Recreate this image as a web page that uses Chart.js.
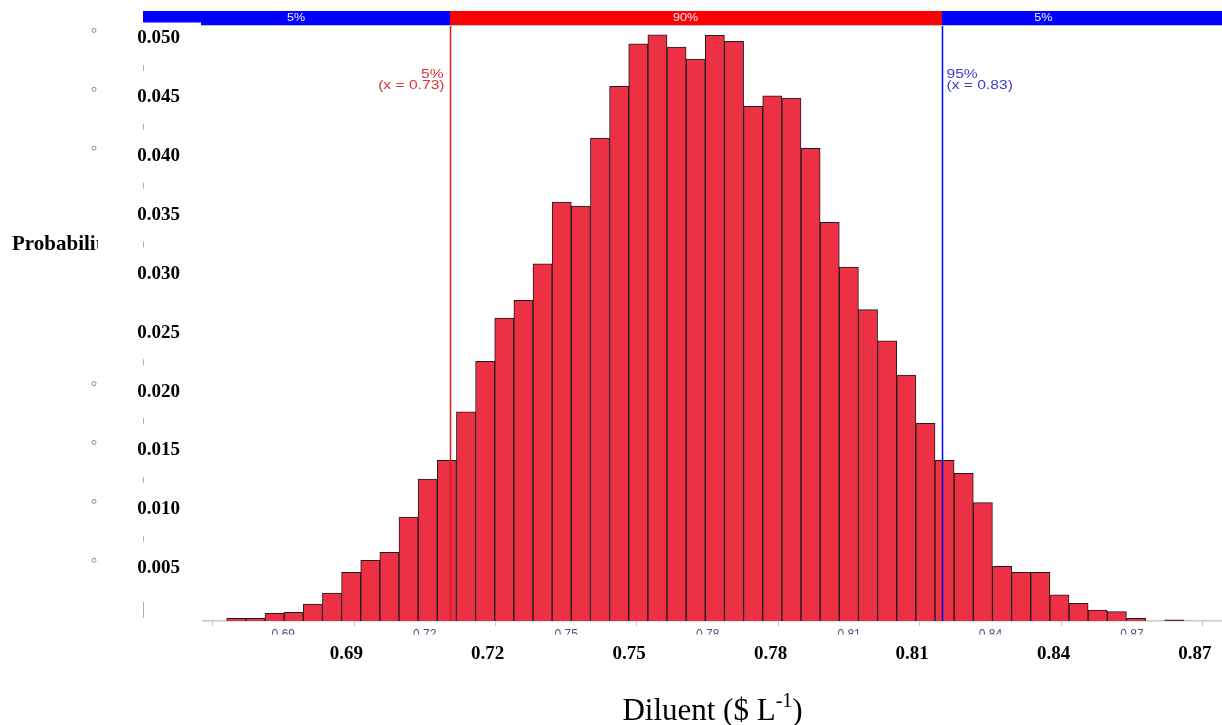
<!DOCTYPE html>
<html><head><meta charset="utf-8">
<script src="https://cdn.jsdelivr.net/npm/chart.js@4.4.1/dist/chart.umd.min.js"></script>
<style>html,body{margin:0;padding:0;background:#fff;}#wrap{width:1222px;height:725px;position:relative;}</style>
</head><body><div id="wrap"><canvas id="c" width="1222" height="725"></canvas></div>
<script>
// Histogram bin centres (Diluent, $ L^-1)
const binCenters = [0.68003,0.68409,0.68815,0.69221,0.69627,0.70033,0.70439,0.70845,0.71251,0.71657,
  0.72063,0.72469,0.72875,0.73281,0.73687,0.74093,0.74499,0.74905,0.75311,0.75717,
  0.76123,0.76529,0.76935,0.77341,0.77747,0.78153,0.78559,0.78965,0.79371,0.79777,
  0.80183,0.80589,0.80995,0.81401,0.81807,0.82213,0.82619,0.83025,0.83431,0.83837,
  0.84243,0.84649,0.85055,0.85461,0.85867,0.86273,0.86679,0.87085,0.87491,0.87897];
// Probability of each bin
const probabilities = [0.00075,0.00075,0.00117,0.00126,0.00196,0.00290,0.00465,0.00567,0.00635,0.00935,
  0.01258,0.01417,0.01829,0.02258,0.02625,0.02776,0.03086,0.03611,0.03576,0.04154,
  0.04593,0.04955,0.05031,0.04927,0.04825,0.05026,0.04975,0.04423,0.04513,0.04494,
  0.04067,0.03438,0.03058,0.02696,0.02432,0.02141,0.01731,0.01417,0.01306,0.01057,
  0.00516,0.00465,0.00465,0.00275,0.00202,0.00145,0.00131,0.00075,null,0.00062];
const xTickValues = [0.69,0.72,0.75,0.78,0.81,0.84,0.87];
const yTickValues = [0.005,0.010,0.015,0.020,0.025,0.030,0.035,0.040,0.045,0.050];
const percentileValues = [0.7254, 0.8298];
const percentileNames = ['5%', '95%'];
const percentileLabels = ['(x = 0.73)', '(x = 0.83)'];
const bandLabels = ['5%', '90%', '5%'];
const bandLabelPositions = [0.6927, 0.7753, 0.8512];
const yMarkerValues = [0.050,0.045,0.040,0.020,0.015,0.010,0.005];
const yMinorValues = [0.0475,0.0425,0.0375,0.0325,0.0225,0.0175,0.0125,0.0075];
const yAxisTitle = 'Probability';
const xAxisTitle = ['Diluent ($ L', '-1', ')'];

const X_MIN = 0.67297, X_MAX = 0.88909;

function stretched(ctx, text, x, y, align, sx) {
  ctx.save(); ctx.translate(x, y); ctx.scale(sx, 1); ctx.textAlign = align; ctx.fillText(text, 0, 0); ctx.restore();
}

const decor = {
  id: 'decor',
  afterDatasetsDraw(chart) {
    const ctx = chart.ctx, xs = chart.scales.x, a = chart.chartArea;
    const cols = ['#d01c1c', '#0000f0'];
    const tcols = ['#e0323a', '#3a3ad8'];
    percentileValues.forEach((v, i) => {
      const px = Math.round(xs.getPixelForValue(v)) + 0.5;
      ctx.save();
      ctx.strokeStyle = cols[i]; ctx.lineWidth = 1.5;
      ctx.beginPath(); ctx.moveTo(px, a.top); ctx.lineTo(px, a.bottom); ctx.stroke();
      ctx.fillStyle = tcols[i];
      ctx.font = '12px "Liberation Sans"';
      ctx.textBaseline = 'alphabetic';
      if (i === 0) {
        stretched(ctx, percentileNames[i], px - 7, 77.5, 'right', 1.3);
        stretched(ctx, percentileLabels[i], px - 6, 89, 'right', 1.3);
      } else {
        stretched(ctx, percentileNames[i], px + 4, 77.5, 'left', 1.3);
        stretched(ctx, percentileLabels[i], px + 4, 89, 'left', 1.3);
      }
      ctx.restore();
    });
  },
  afterDraw(chart) {
    const ctx = chart.ctx, xs = chart.scales.x, ys = chart.scales.y, a = chart.chartArea;
    const p1 = Math.round(xs.getPixelForValue(percentileValues[0]));
    const p2 = Math.round(xs.getPixelForValue(percentileValues[1]));
    const bandL = a.left - 60, bandT = a.top - 14, bandH = 14;
    ctx.save();
    // percentile band
    ctx.fillStyle = '#0000ff'; ctx.fillRect(bandL, bandT, p1 - bandL, bandH);
    ctx.fillStyle = '#ff0000'; ctx.fillRect(p1, bandT, p2 - p1, bandH);
    ctx.fillStyle = '#0000ff'; ctx.fillRect(p2, bandT, a.right - p2, bandH);
    ctx.fillStyle = '#fff'; ctx.fillRect(bandL, bandT + 11.5, a.left - 2 - bandL, 4);
    ctx.strokeStyle = '#c0c0c0'; ctx.lineWidth = 1;
    ctx.beginPath(); ctx.moveTo(a.left - 2, a.top + 0.5); ctx.lineTo(a.right, a.top + 0.5); ctx.stroke();
    ctx.fillStyle = '#f4f4ff'; ctx.font = '10px "Liberation Sans"'; ctx.textBaseline = 'middle';
    bandLabels.forEach((t, i) => stretched(ctx, t, xs.getPixelForValue(bandLabelPositions[i]), bandT + 7, 'center', 1.25));
    // hide lower half of the small original tick labels
    ctx.fillStyle = '#fff'; ctx.fillRect(a.left, a.bottom + 13.5, a.right - a.left, 4);
    // y-axis title
    ctx.save();
    ctx.beginPath(); ctx.rect(0, 200, 98, 90); ctx.clip();
    ctx.fillStyle = '#000'; ctx.font = 'bold 21px "Liberation Serif"'; ctx.textBaseline = 'middle'; ctx.textAlign = 'left';
    ctx.fillText(yAxisTitle, 12, 245);
    ctx.restore();
    // x-axis title with superscript
    ctx.fillStyle = '#000'; ctx.textBaseline = 'alphabetic'; ctx.textAlign = 'left';
    ctx.font = '31px "Liberation Serif"';
    const w0 = ctx.measureText(xAxisTitle[0]).width;
    ctx.font = '20px "Liberation Serif"';
    const w1 = ctx.measureText(xAxisTitle[1]).width;
    ctx.font = '31px "Liberation Serif"';
    const w2 = ctx.measureText(xAxisTitle[2]).width;
    let tx = (a.left + a.right) / 2 - (w0 + w1 + w2) / 2;
    const base = 720;
    ctx.fillText(xAxisTitle[0], tx, base); tx += w0;
    ctx.font = '20px "Liberation Serif"'; ctx.fillText(xAxisTitle[1], tx, base - 13); tx += w1;
    ctx.font = '31px "Liberation Serif"'; ctx.fillText(xAxisTitle[2], tx, base);
    // small remnant markers on the left
    ctx.strokeStyle = '#8a8a8a'; ctx.lineWidth = 1;
    yMarkerValues.forEach(v => {
      const py = ys.getPixelForValue(v) - 8;
      ctx.beginPath(); ctx.arc(94, py, 2, 0, Math.PI * 2); ctx.stroke();
    });
    ctx.strokeStyle = '#b0b0b0';
    yMinorValues.forEach(v => {
      const py = ys.getPixelForValue(v);
      ctx.beginPath(); ctx.moveTo(143.5, py - 3); ctx.lineTo(143.5, py + 3); ctx.stroke();
    });
    ctx.beginPath(); ctx.moveTo(143.5, a.bottom - 19); ctx.lineTo(143.5, a.bottom - 3); ctx.stroke();
    ctx.restore();
  }
};

const fmt2 = v => Number(v).toFixed(2);
const fmt3 = v => Number(v).toFixed(3);

new Chart(document.getElementById('c').getContext('2d'), {
  type: 'bar',
  data: {
    datasets: [{
      data: binCenters.map((x, i) => ({ x: x, y: probabilities[i] })),
      backgroundColor: '#ee3044',
      borderColor: '#1c1c1c',
      borderWidth: 1,
      barPercentage: 1,
      categoryPercentage: 1,
      clip: 0
    }]
  },
  options: {
    responsive: false,
    animation: false,
    devicePixelRatio: 1,
    layout: { padding: { top: 25, left: 0, right: 0, bottom: 63 } },
    plugins: { legend: { display: false }, tooltip: { enabled: false } },
    scales: {
      x: {
        type: 'linear', position: 'bottom', min: X_MIN, max: X_MAX, offset: false, weight: 0,
        afterBuildTicks: s => { s.ticks = xTickValues.map(v => ({ value: v })); },
        afterFit: s => { s.height = 17; s.paddingLeft = 0; s.paddingRight = 0; },
        grid: { drawOnChartArea: false, drawTicks: true, tickLength: 5, color: '#c8c8c8' },
        border: { color: '#c8c8c8', width: 1.5 },
        ticks: { font: { family: 'Liberation Sans', size: 12 }, color: '#44507a', padding: 1, maxRotation: 0, autoSkip: false, callback: fmt2 }
      },
      x2: {
        type: 'linear', position: 'bottom', min: X_MIN, max: X_MAX, offset: false, weight: 1,
        afterBuildTicks: s => { s.ticks = xTickValues.map(v => ({ value: v })); },
        afterFit: s => { s.height = 24; s.paddingLeft = 0; s.paddingRight = 0; },
        grid: { display: false, drawTicks: false },
        border: { display: false },
        ticks: { labelOffset: 63, font: { family: 'Liberation Serif', size: 19, weight: 'bold' }, color: '#000', padding: 5, maxRotation: 0, autoSkip: false, callback: fmt2 }
      },
      y: {
        type: 'linear', position: 'left', min: 0.000518, max: 0.05114,
        afterBuildTicks: s => { s.ticks = yTickValues.map(v => ({ value: v })); },
        afterFit: s => { s.width = 203; s.paddingTop = 0; s.paddingBottom = 0; },
        grid: { display: false, drawTicks: false },
        border: { display: false },
        ticks: { font: { family: 'Liberation Serif', size: 19, weight: 'bold' }, color: '#000', padding: 23, callback: fmt3 }
      }
    }
  },
  plugins: [decor]
});
</script></body></html>
